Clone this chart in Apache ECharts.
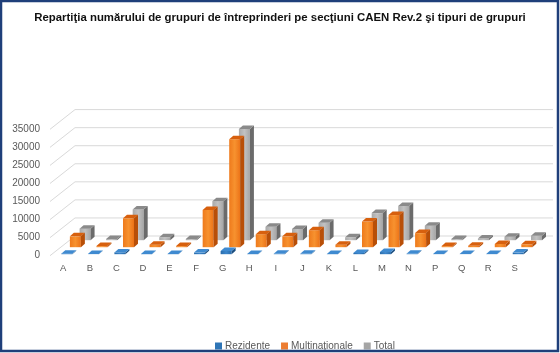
<!DOCTYPE html>
<html><head><meta charset="utf-8">
<script src="https://cdn.jsdelivr.net/npm/echarts@6/dist/echarts.min.js"></script>
<style>html,body{margin:0;padding:0;background:#fff}#c{width:560px;height:353px}</style>
</head><body><div id="c"></div>
<script>
const categories = ['A','B','C','D','E','F','G','H','I','J','K','L','M','N','P','Q','R','S'];
const rezidente = [150, 30, 500, 60, 50, 450, 900, 80, 100, 100, 60, 350, 600, 100, 40, 30, 40, 450];
const multinationale = [3000, 300, 8000, 700, 300, 10300, 29900, 3600, 3000, 4700, 700, 7100, 8900, 3900, 300, 400, 900, 800];
const total = [3200, 350, 8500, 800, 350, 10800, 30800, 3700, 3100, 4800, 800, 7500, 9500, 4000, 350, 450, 950, 1250];
const yTicks = [0, 5000, 10000, 15000, 20000, 25000, 30000, 35000];
const seriesNames = ['Rezidente', 'Multinaţionale', 'Total'];

const WALL_DX = 25, WALL_DY = 19.7;
const BW = 11, BDX = 4, BDY = 3.5;
const OFF = [[-2, -1.5], [6.6, -8.5], [16.3, -15.5]];

const chart = echarts.init(document.getElementById('c'), null, {renderer: 'canvas'});

function barSeries(name, values, row, col, z) {
  return {
    type: 'custom', name: name, coordinateSystem: 'cartesian2d', clip: false, z: z,
    data: values.map((v, i) => [i, v]), encode: {x: 0, y: 1},
    itemStyle: {color: col.legend},
    renderItem: function (params, api) {
      const i = api.value(0), v = api.value(1);
      const p0 = api.coord([i, 0]), p1 = api.coord([i, v]);
      const x0 = p0[0] + OFF[row][0];
      const yb = p0[1] + OFF[row][1];
      const yt = p1[1] + OFF[row][1];
      return {
        type: 'group', children: [
          {type: 'rect', shape: {x: x0, y: yt, width: BW, height: Math.max(yb - yt, 0)},
           style: {fill: new echarts.graphic.LinearGradient(0, 0, 1, 0, [
             {offset: 0, color: col.front[0]}, {offset: 0.5, color: col.front[1]}, {offset: 1, color: col.front[2]}])}},
          {type: 'polygon', shape: {points: [[x0 + BW, yt], [x0 + BW + BDX, yt - BDY], [x0 + BW + BDX, yb - BDY], [x0 + BW, yb]]},
           style: {fill: col.side}},
          {type: 'polygon', shape: {points: [[x0, yt], [x0 + BW, yt], [x0 + BW + BDX, yt - BDY], [x0 + BDX, yt - BDY]]},
           style: {fill: col.top}}
        ]
      };
    }
  };
}

const option = {
  backgroundColor: '#ffffff',
  animation: false,
  title: {
    text: 'Repartiţia numărului de grupuri de întreprinderi pe secţiuni CAEN Rev.2 şi tipuri de grupuri',
    left: 'center', top: 7,
    textStyle: {fontFamily: 'Liberation Sans', fontSize: 11.4, fontWeight: 'bold', color: '#111'}
  },
  legend: {
    data: seriesNames, left: 210, top: 336, icon: 'rect', itemWidth: 7, itemHeight: 7, itemGap: 11,
    textStyle: {fontFamily: 'Liberation Sans', fontSize: 10, color: '#595959', padding: [0, 0, 0, -2]}
  },
  grid: {left: 50, right: 32, top: 129.3, bottom: 97.3, containLabel: false},
  xAxis: {
    type: 'category', data: categories,
    axisLine: {show: false}, axisTick: {show: false},
    axisLabel: {margin: 8, fontFamily: 'Liberation Sans', fontSize: 9.5, color: '#595959'}
  },
  yAxis: {
    type: 'value', min: 0, max: 35000, interval: 5000,
    axisLine: {show: false}, axisTick: {show: false}, splitLine: {show: false},
    axisLabel: {margin: 10, fontFamily: 'Liberation Sans', fontSize: 10, color: '#595959',
      formatter: function (v) { return String(v); }}
  },
  series: [
    barSeries(seriesNames[0], rezidente, 0, {legend: '#2E75B6', front: ['#2a6cab', '#3b86cc', '#2a6cab'], side: '#1d4f80', top: '#3f8ad0'}, 5),
    barSeries(seriesNames[1], multinationale, 1, {legend: '#ED7D31', front: ['#ee7a1c', '#f7922f', '#ec7318'], side: '#b84f08', top: '#d7600e'}, 4),
    barSeries(seriesNames[2], total, 2, {legend: '#A5A5A5', front: ['#a9a9a9', '#c2c2c2', '#a6a6a6'], side: '#6b6b6b', top: '#8a8a8a'}, 3),
    {
      type: 'custom', name: 'walls', coordinateSystem: 'cartesian2d', clip: false, z: 1, silent: true,
      data: [[0, 0]], encode: {x: 0, y: 1},
      renderItem: function (params, api) {
        const cs = params.coordSys;
        const children = [];
        yTicks.forEach(function (t) {
          const y = api.coord([0, t])[1];
          children.push({type: 'line', shape: {x1: cs.x + WALL_DX, y1: y - WALL_DY, x2: cs.x + cs.width + WALL_DX, y2: y - WALL_DY},
            style: {stroke: '#d9d9d9', lineWidth: 1}});
          children.push({type: 'line', shape: {x1: cs.x, y1: y, x2: cs.x + WALL_DX, y2: y - WALL_DY},
            style: {stroke: '#d9d9d9', lineWidth: 1}});
        });
        return {type: 'group', children: children};
      }
    }
  ],
  graphic: [
    {type: 'rect', shape: {x: 1, y: 1, width: 557, height: 350}, style: {fill: 'none', stroke: '#1f3f7a', lineWidth: 2.5}, z: 100}
  ]
};
chart.setOption(option);
</script></body></html>
